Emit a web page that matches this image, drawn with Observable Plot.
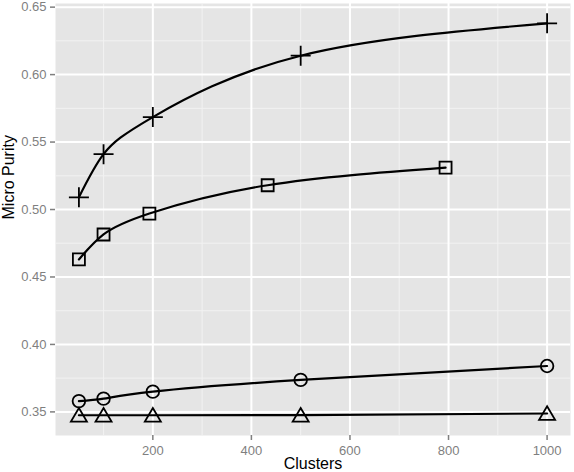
<!DOCTYPE html>
<html>
<head>
<meta charset="utf-8">
<script src="https://cdn.jsdelivr.net/npm/d3@7"></script>
<script src="https://cdn.jsdelivr.net/npm/@observablehq/plot@0.6"></script>
<style>
  body { margin: 0; background: white; }
</style>
</head>
<body>
<div id="chart"></div>
<script>
// values
const clusters = [50, 100, 200, 500, 1000];
const plusY = [0.509, 0.541, 0.5685, 0.614, 0.638];
const squareX = [50, 100, 193, 433, 794];
const squareY = [0.463, 0.4815, 0.497, 0.518, 0.531];
const circleY = [0.358, 0.3598, 0.365, 0.3737, 0.384];
const triangleY = [0.3475, 0.3475, 0.3475, 0.3476, 0.3488];

const xTicks = [200, 400, 600, 800, 1000];
const xMinor = [100, 300, 500, 700, 900];
const yTicks = [0.35, 0.40, 0.45, 0.50, 0.55, 0.60, 0.65];
const yMinor = [0.375, 0.425, 0.475, 0.525, 0.575, 0.625];

const rows = (xs, ys) => xs.map((x, i) => ({x, y: ys[i]}));
const plusData = rows(clusters, plusY);
const squareData = rows(squareX, squareY);
const circleData = rows(clusters, circleY);
const triangleData = rows(clusters, triangleY);

// open ggplot-like shapes
const half = size => Math.sqrt(size / Math.PI);
const plusSym = {draw(c, size) { const r = half(size); c.moveTo(-r, 0); c.lineTo(r, 0); c.moveTo(0, -r); c.lineTo(0, r); }};
const squareSym = {draw(c, size) { const r = half(size); c.rect(-r, -r, 2 * r, 2 * r); }};
const triSym = {draw(c, size) { const r = half(size); c.moveTo(0, -r * 0.9); c.lineTo(r, r * 0.8); c.lineTo(-r, r * 0.8); c.closePath(); }};

const curve = "natural";
const lineOpts = {x: "x", y: "y", curve, stroke: "black", strokeWidth: 2.2};
const dotOpts = {x: "x", y: "y", fill: "none", stroke: "black", strokeWidth: 1.8};

const chart = Plot.plot({
  width: 574,
  height: 472,
  marginLeft: 55,
  marginRight: 4,
  marginTop: 3,
  marginBottom: 37,
  style: {fontFamily: "'Liberation Sans', Arial, sans-serif", background: "white"},
  x: {domain: [2.5, 1047.5]},
  y: {domain: [0.3325, 0.6527]},
  marks: [
    Plot.frame({fill: "#e5e5e5", stroke: null}),
    Plot.gridX(xMinor, {stroke: "#f2f2f2", strokeOpacity: 1, strokeWidth: 1}),
    Plot.gridY(yMinor, {stroke: "#f2f2f2", strokeOpacity: 1, strokeWidth: 1}),
    Plot.gridX(xTicks, {stroke: "white", strokeOpacity: 1, strokeWidth: 2}),
    Plot.gridY(yTicks, {stroke: "white", strokeOpacity: 1, strokeWidth: 2}),
    Plot.axisX({ticks: xTicks, tickFormat: d3.format("d"), tickSize: 5, tickPadding: 5, stroke: "#7f7f7f", strokeWidth: 1.5, fill: "#7f7f7f", fontSize: 13, label: null}),
    Plot.axisY({ticks: yTicks, tickFormat: d3.format(".2f"), tickSize: 5, tickPadding: 4, stroke: "#7f7f7f", strokeWidth: 1.5, fill: "#7f7f7f", fontSize: 13, label: null}),
    Plot.text(["Clusters"], {frameAnchor: "bottom", dy: 33, fontSize: 16, fill: "black"}),
    Plot.text(["Micro Purity"], {frameAnchor: "left", dx: -47, rotate: -90, fontSize: 16, fill: "black"}),
    Plot.line(triangleData, lineOpts),
    Plot.line(circleData, lineOpts),
    Plot.line(squareData, lineOpts),
    Plot.line(plusData, lineOpts),
    Plot.dot(plusData, {...dotOpts, symbol: plusSym, r: 10}),
    Plot.dot(squareData, {...dotOpts, symbol: squareSym, r: 6}),
    Plot.dot(circleData, {...dotOpts, symbol: "circle", r: 6.3}),
    Plot.dot(triangleData, {...dotOpts, symbol: triSym, r: 8})
  ]
});

document.getElementById("chart").append(chart);
</script>
</body>
</html>
